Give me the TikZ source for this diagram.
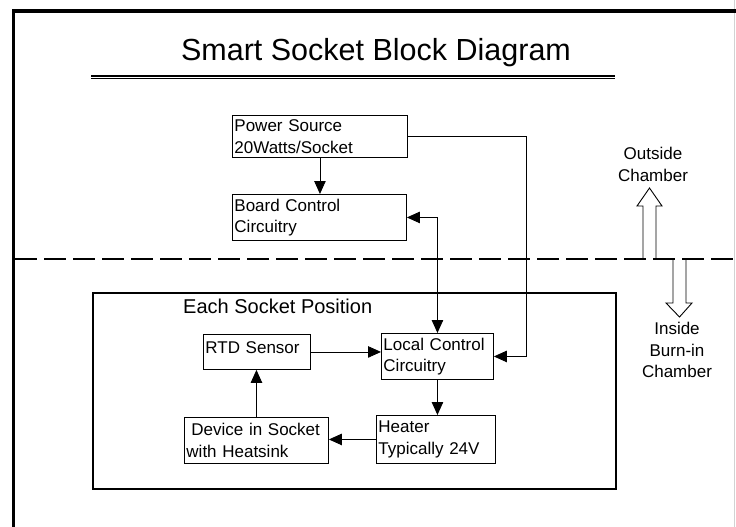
\documentclass[tikz,border=0pt]{standalone}
\usepackage{fontspec}
\setmainfont{Liberation Sans}
\usepackage{tikz}
\usetikzlibrary{arrows.meta,calc}
\newcommand{\boxFont}{\fontsize{17}{21.5}\selectfont}
\newcommand{\titleFont}{\fontsize{30.5}{36}\selectfont}
\newcommand{\groupFont}{\fontsize{20}{24}\selectfont}
\newcommand{\lineWidth}{0.9pt}
\newcommand{\frameWidth}{3.2pt}
\newcommand{\wallY}{259}
\newcommand{\busX}{526}
\tikzset{
	block/.style={draw, line width=\lineWidth, align=left, anchor=north west, inner xsep=2pt, inner ysep=0pt, font=\boxFont},
	link/.style={line width=\lineWidth, -{Triangle[length=13pt,width=11.5pt]}},
	twolink/.style={line width=\lineWidth, {Triangle[length=13pt,width=11.5pt]}-{Triangle[length=13pt,width=11.5pt]}},
	hollow/.style={line width=\lineWidth, line join=miter},
	note/.style={align=center, anchor=north, inner sep=0pt, font=\boxFont}
}
\begin{document}
\begin{tikzpicture}[x=1pt,y=-1pt]
	\useasboundingbox (0,0) rectangle (736,527);

	% page frame
	\draw[gray!35, line width=1pt] (734,0) -- (734,527);
	\draw[line width=\frameWidth] (13.5,527) -- (13.5,11) -- (736,11);

	\node[anchor=base, inner sep=0pt, font=\titleFont] (title) at (376,61) {Smart Socket Block Diagram};
	\foreach \yy/\lw in {75.8/1.7, 78.8/1.0}
	{
		\draw[line width=\lw pt] (91,\yy) -- (615,\yy);
	}

	% chamber wall
	\draw[line width=2.4pt, dash pattern=on 22pt off 7pt] (15,\wallY) -- (736,\wallY);
	\draw[hollow] (643,\wallY) -- (643,206) -- (637,206) -- (649.5,188) -- (662,206) -- (656,206) -- (656,\wallY);
	\draw[hollow] (673,\wallY) -- (673,303) -- (666,303) -- (679.5,317) -- (692,303) -- (686,303) -- (686,\wallY);
	\node[note] (outside) at (653,147) {Outside\\Chamber};
	\node[note] (inside) at (677,322) {Inside\\Burn-in\\Chamber};

	\node[block, text width=171, minimum height=42] (pwr) at (232,115) {Power Source\\20Watts/Socket};
	\node[block, text width=170, minimum height=46] (brd) at (232,194) {Board Control\\Circuitry};

	\node[draw, line width=1.6pt, anchor=north west, inner sep=0pt, minimum width=523, minimum height=196] (socket) at (92,292) {};
	\node[anchor=base west, inner sep=0pt, font=\groupFont] (socklbl) at (183,313) {Each Socket Position};
	\node[block, text width=103, minimum height=35, text depth=9pt] (rtd) at (203,334) {RTD Sensor};
	\node[block, text width=108, minimum height=46] (lcc) at (381,333) {Local Control\\Circuitry};
	\node[block, text width=115, minimum height=48] (heater) at (376,415) {Heater\\Typically 24V};
	\node[block, text width=140, minimum height=46] (dev) at (184,417) {\hspace*{5pt}Device in Socket\\with Heatsink};

	\coordinate (bus) at (\busX,0);
	\draw[link] (pwr.south) -- (pwr.south |- brd.north);
	\draw[link] (pwr.east) -| (bus |- lcc.east) -- (lcc.east);
	\draw[twolink] (brd.east) -| (lcc.north);
	\draw[link] (rtd.east) -- (rtd.east -| lcc.west);
	\draw[link] (lcc.south) -- (lcc.south |- heater.north);
	\draw[link] (heater.west) -- (heater.west -| dev.east);
	\draw[link] (dev.north) -- (dev.north |- rtd.south);
\end{tikzpicture}
\end{document}
